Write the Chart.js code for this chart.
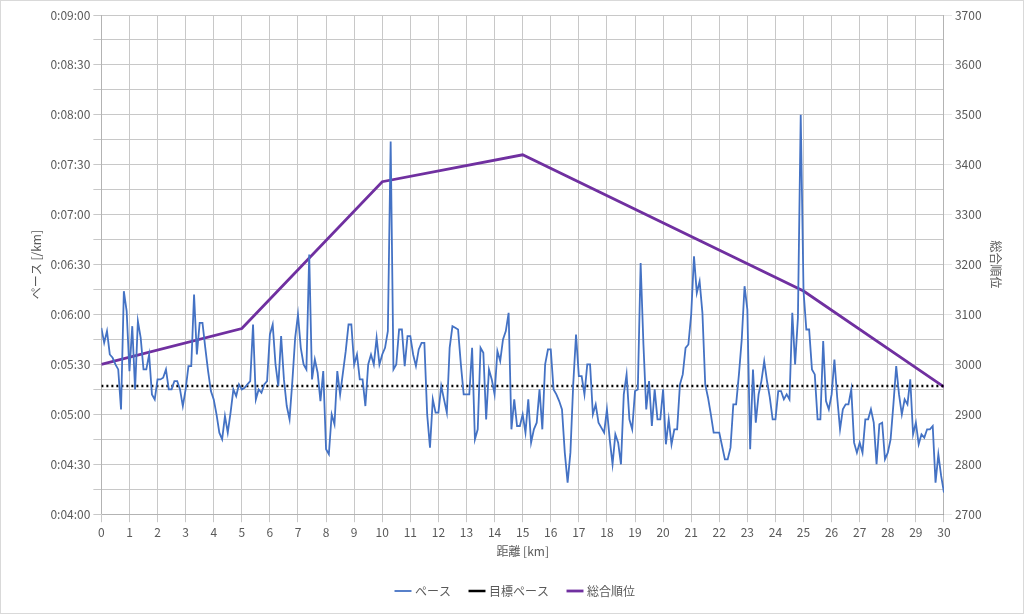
<!DOCTYPE html>
<html>
<head>
<meta charset="utf-8">
<script src="https://cdn.jsdelivr.net/npm/chart.js@4"></script>
<style>
  body { margin: 0; background: #fff; }
  #wrap { width: 1022px; height: 612px; border: 1px solid #d9d9d9; }
</style>
</head>
<body>
<div id="wrap"><canvas id="paceChart" width="1022" height="612"></canvas></div>
<script>
// pace in seconds per km, one value every 0.1 km from 0 to 30
const paceStep = 0.1;
const paceSec = [
  352,343,350,336,334,330,327,303,374,362,
  326,353,315,356,346,327,327,336,312,309,
  321,321,322,327,315,315,320,320,315,305,
  315,329,329,372,336,355,355,340,326,314,
  309,300,289,285,299,289,301,315,311,318,
  315,316,318,320,354,309,315,313,318,320,
  348,354,330,317,347,321,305,297,320,346,
  360,340,330,327,396,321,333,325,308,326,
  279,276,300,294,326,312,325,338,354,354,
  330,336,321,321,305,330,336,330,346,330,
  336,340,350,464,327,330,351,351,329,347,
  347,336,329,339,343,343,300,280,309,301,
  301,317,309,301,340,353,352,351,330,312,
  312,312,340,285,291,340,337,297,327,321,
  312,338,332,345,350,361,291,309,293,293,
  300,289,309,283,291,295,315,291,330,339,
  339,315,312,308,303,277,259,277,318,348,
  323,323,312,330,330,300,306,295,292,289,
  303,285,270,288,283,270,312,324,297,291,
  314,315,391,342,303,320,293,315,297,297,
  315,282,297,282,291,291,318,324,340,342,
  360,395,373,380,361,318,310,300,289,289,
  289,281,273,273,280,306,306,324,345,377,
  363,279,327,295,312,320,332,320,310,297,
  297,314,314,309,312,309,361,330,358,480,
  374,351,351,327,324,297,297,344,308,303,
  312,333,310,291,303,306,306,315,283,277,
  283,277,297,297,303,295,270,294,295,273,
  277,285,306,329,312,300,309,306,321,288,
  295,282,288,286,291,291,293,259,276,263,
  253
];
const targetPaceSec = 317;
const rankKm = [0, 5, 10, 15, 25, 30];
const rankValues = [3000, 3072, 3366, 3420, 3147, 2955];

function fmtPace(s) {
  const m = Math.floor(s / 60), r = Math.round(s % 60);
  return '0:' + String(m).padStart(2, '0') + ':' + String(r).padStart(2, '0');
}

const paceData = paceSec.map((v, i) => ({ x: +(i * paceStep).toFixed(1), y: v }));
const targetData = [{ x: 0, y: targetPaceSec }, { x: 30, y: targetPaceSec }];
const rankData = rankKm.map((k, i) => ({ x: k, y: rankValues[i] }));

Chart.defaults.font.family = '"Noto Sans CJK JP", "Noto Sans", sans-serif';
Chart.defaults.font.size = 12;
Chart.defaults.color = '#595959';

new Chart(document.getElementById('paceChart').getContext('2d'), {
  type: 'line',
  data: {
    datasets: [
      { label: 'ペース', data: paceData, yAxisID: 'y', borderColor: '#4472c4', borderWidth: 1.8, pointRadius: 0, tension: 0 },
      { label: '目標ペース', data: targetData, yAxisID: 'y', borderColor: '#000', borderWidth: 2.5, borderDash: [2, 3], pointRadius: 0 },
      { label: '総合順位', data: rankData, yAxisID: 'y2', borderColor: '#7030a0', borderWidth: 2.8, pointRadius: 0 }
    ]
  },
  options: {
    responsive: false,
    animation: false,
    layout: { padding: { left: 24, right: 16, top: 14, bottom: 6 } },
    plugins: {
      legend: {
        position: 'bottom',
        labels: { usePointStyle: true, pointStyle: 'line', boxWidth: 40, padding: 20, color: '#595959' }
      },
      tooltip: { enabled: false }
    },
    scales: {
      x: {
        type: 'linear', min: 0, max: 30,
        ticks: { stepSize: 1 },
        grid: { color: '#c8c8c8' },
        title: { display: true, text: '距離 [km]', padding: { top: 2, bottom: 6 } }
      },
      y: {
        min: 240, max: 540,
        ticks: { stepSize: 15, callback: v => (v % 30 === 0 ? fmtPace(v) : '') },
        grid: { color: '#c8c8c8' },
        title: { display: true, text: 'ペース [/km]' }
      },
      y2: {
        position: 'right', min: 2700, max: 3700,
        ticks: { stepSize: 100, callback: v => String(v) },
        grid: { drawOnChartArea: false },
        title: { display: true, text: '総合順位' }
      }
    }
  }
});
</script>
</body>
</html>
